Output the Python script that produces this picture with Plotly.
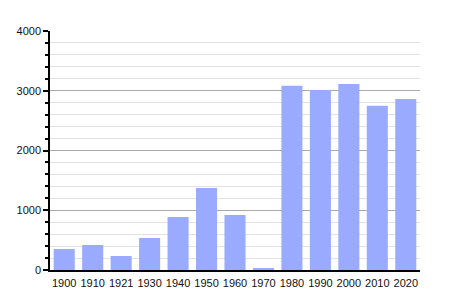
import plotly.graph_objects as go

years = ["1900", "1910", "1921", "1930", "1940", "1950", "1960", "1970", "1980", "1990", "2000", "2010", "2020"]
population = [351, 418, 234, 535, 887, 1372, 920, 28, 3085, 3013, 3113, 2750, 2862]
y_ticks = [0, 1000, 2000, 3000, 4000]

fig = go.Figure(go.Bar(x=years, y=population, marker=dict(color="#99aaff", line=dict(width=0)), width=0.74))

fig.update_layout(
    width=450, height=300,
    margin=dict(l=50, r=30, t=31, b=30),
    paper_bgcolor="white", plot_bgcolor="white",
    font=dict(family="Liberation Sans, Arial, sans-serif", size=11, color="#111"),
    showlegend=False,
    bargap=0.26,
)
fig.update_xaxes(
    type="category", showline=True, linecolor="black", linewidth=1.5,
    ticks="", showgrid=False, ticklabelstandoff=2,
)
fig.update_yaxes(
    range=[0, 4000], tickvals=y_ticks, ticktext=[str(v) for v in y_ticks],
    showline=True, linecolor="black", linewidth=1.5,
    ticks="outside", ticklen=5, tickcolor="black", tickwidth=1.5,
    showgrid=True, gridcolor="#aaaaaa", gridwidth=1,
    zeroline=False,
    minor=dict(dtick=200, ticks="outside", ticklen=3, tickcolor="black", showgrid=True, gridcolor="#e2e2e2", gridwidth=1),
)

fig.write_html("out.html")
